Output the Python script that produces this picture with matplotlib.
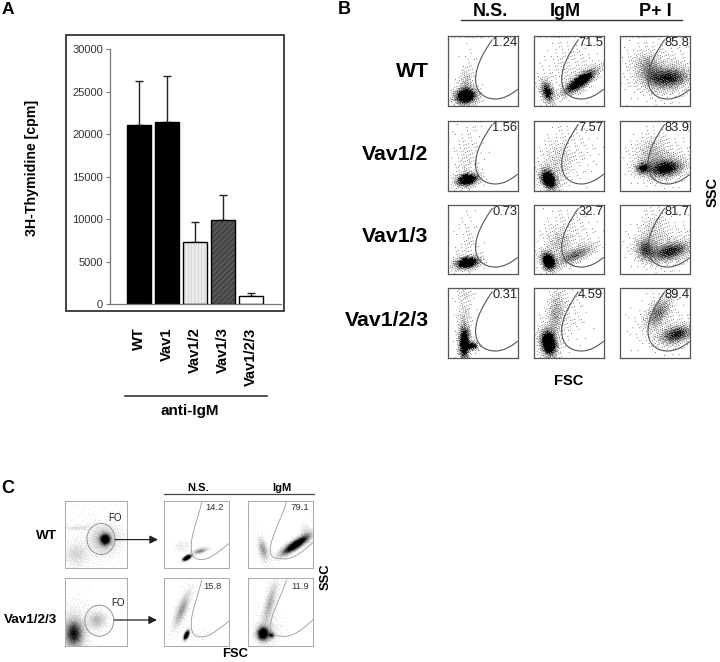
import numpy as np
import matplotlib
matplotlib.use('Agg')
import matplotlib.pyplot as plt
from matplotlib.patches import Ellipse, PathPatch, Rectangle
from matplotlib.path import Path

plt.rcParams['font.family'] = ['Liberation Sans', 'DejaVu Sans']
plt.rcParams['hatch.linewidth'] = 0.4

W, H = 720, 662

# panel A
genotypes = ['WT', 'Vav1', 'Vav1/2', 'Vav1/3', 'Vav1/2/3']
cpm_mean = [21100, 21500, 7300, 9900, 1000]
cpm_top = [26300, 26900, 9650, 12800, 1350]
bar_colors = ['black', 'black', '#ececec', '#555555', 'white']
bar_hatch = [None, None, '|||||', '//////', None]
hatch_colors = ['black', 'black', '#c4c4c4', '#222222', 'white']
y_ticks = [0, 5000, 10000, 15000, 20000, 25000, 30000]

# panel B: percent labels by row, then N.S. / IgM / P+ I
b_rows = ['WT', 'Vav1/2', 'Vav1/3', 'Vav1/2/3']
b_cols = ['N.S.', 'IgM', 'P+ I']
b_pct = [['1.24', '71.5', '85.8'],
         ['1.56', '7.57', '83.9'],
         ['0.73', '32.7', '81.7'],
         ['0.31', '4.59', '89.4']]

# dot clouds: x, y, sd along, sd across, angle, strength
b_clouds = [
    [[(25, 14, 8, 6, 10, 3.4), (26, 32, 5, 10, 0, .5), (28, 60, 6, 18, 0, .05)],
     [(19, 20, 4.5, 8.5, 15, 2.0), (66, 35, 14, 4.5, 35, 3.2), (50, 55, 20, 20, 0, .1)],
     [(71, 40, 15, 8, 5, 1.5), (43, 49, 9, 13, 30, .8), (55, 50, 24, 20, 0, .2)]],
    [[(27, 16, 8, 4.5, 10, 3.4), (27, 38, 8, 14, 0, .14), (28, 70, 10, 18, 0, .06)],
     [(21, 16, 5.5, 8, 30, 3.2), (32, 38, 11, 15, 0, .25), (50, 55, 20, 22, 0, .08)],
     [(66, 32, 13, 6.5, 10, 2.0), (33, 32, 6, 4.5, 10, 1.8), (47, 48, 12, 14, 0, .45), (60, 45, 25, 18, 0, .12)]],
    [[(27, 16, 9, 4.5, 10, 3.2), (28, 40, 8, 12, 0, .12), (26, 72, 6, 16, 0, .05)],
     [(21, 18, 5, 7, 25, 3.4), (59, 27, 15, 5, 25, 1.1), (36, 42, 10, 12, 0, .4), (50, 60, 20, 20, 0, .08)],
     [(72, 32, 15, 6.5, 15, 1.6), (36, 35, 7, 8, 20, 1.3), (48, 55, 10, 18, 0, .3), (65, 45, 25, 18, 0, .12)]],
    [[(23, 21, 4, 12, 0, 3.0), (35, 17, 4, 3, 0, 2.2), (23, 55, 5, 20, 0, .3), (24, 90, 8, 6, 0, .12)],
     [(21, 21, 6, 10, 10, 3.4), (31, 62, 6, 18, -5, .6), (46, 60, 14, 20, 0, .1)],
     [(81, 33, 13, 6.5, 15, 1.6), (55, 64, 6.5, 13, -35, 1.0), (60, 45, 22, 18, 0, .1)]],
]
# stray events piled against the top edge of the B plots
b_top_band = (30, 99, 22, 1, 0, .5)

# panel C clouds: left gate plot, N.S., IgM for WT and Vav1/2/3
c_rows = ['WT', 'Vav1/2/3']
c_cols = ['N.S.', 'IgM']
c_pct = [['14.2', '79.1'], ['15.8', '11.9']]
c_clouds = [
    [[(64, 42, 4.5, 4.5, 0, 3.5), (62, 42, 12, 11, 0, .7), (18, 20, 10, 9, 0, .4), (21, 59, 12, 2, 0, .3), (40, 40, 30, 30, 0, .03)],
     [(35, 15, 3.8, 1.7, 28, 6.0), (55, 25, 6, 2, 15, 1.3), (27, 32, 6, 4, 0, .2)],
     [(72, 34, 13, 3.5, 33, 4.0), (23, 27, 3.8, 9, 15, 1.0), (88, 50, 5, 7, 0, .4)]],
    [[(14, 18, 8, 11, 0, 2.2), (51, 38, 8, 7, 0, .7), (15, 25, 14, 20, 0, .25)],
     [(27, 53, 15, 4, 68, 1.0), (34, 16, 3.8, 1.7, 65, 6.0), (60, 15, 12, 5, 0, .06)],
     [(23, 18, 5, 5.5, 0, 4.0), (36, 16, 2.5, 2.5, 0, 2.2), (33, 62, 18, 4, 75, .8), (30, 25, 10, 12, 0, .25)]],
]

# gate outlines as bezier control points
gate_b = [(64, 95), (50, 75), (40, 56), (40, 38), (40, 20), (52, 10), (68, 10), (80, 10), (90, 16), (100, 24)]
gate_c = [(58, 98), (52, 72), (42, 52), (42, 32), (42, 16), (48, 13), (58, 13), (72, 13), (88, 28), (100, 37)]
gate_c_igm = [(59, 98), (50, 70), (34, 46), (34, 26), (34, 14), (46, 14), (56, 14), (72, 14), (88, 28), (100, 39)]


def px_axes(x0, y0, x1, y1, **kw):
    return fig.add_axes([x0 / W, 1 - y1 / H, (x1 - x0) / W, (y1 - y0) / H], **kw)


def draw_cloud(ax, blobs, gain, dots, spread=1.1):
    # density from the read clusters, then a fixed halftone screen to get a dotted look
    i, j = np.meshgrid(np.arange(dots), np.arange(dots))
    xx, yy = (i + .5) * 100 / dots, (j + .5) * 100 / dots
    z = np.zeros_like(xx)
    for cx, cy, sa, sb, ang, w in blobs:
        t = np.deg2rad(ang)
        u = (xx - cx) * np.cos(t) + (yy - cy) * np.sin(t)
        v = -(xx - cx) * np.sin(t) + (yy - cy) * np.cos(t)
        z += w * np.exp(-0.5 * ((u / (sa * spread)) ** 2 + (v / (sb * spread)) ** 2))
    screen = np.mod(52.9829189 * np.mod(0.06711056 * i + 0.00583715 * j, 1), 1)
    ink = gain * z > screen
    ax.imshow(ink.astype(float), extent=(0, 100, 0, 100), origin='lower', cmap='Greys', vmin=0, vmax=1,
              aspect='auto', interpolation='antialiased')


def draw_gate(ax, pts, color, lw):
    codes = [Path.MOVETO] + [Path.CURVE4] * 9
    ax.add_patch(PathPatch(Path(pts, codes), fill=False, ec=color, lw=lw))


def flow_panel(box, blobs, edge='#555555', edge_w=0.9, gain=0.55, dots=100):
    ax = px_axes(*box)
    draw_cloud(ax, blobs, gain, dots)
    ax.set_xlim(0, 100)
    ax.set_ylim(0, 100)
    ax.set_xticks([])
    ax.set_yticks([])
    for s in ax.spines.values():
        s.set_color(edge)
        s.set_linewidth(edge_w)
    return ax


fig = plt.figure(figsize=(W / 100, H / 100), dpi=100)

# overlay in picture pixels for labels and rules
ov = fig.add_axes([0, 0, 1, 1], zorder=5)
ov.set_xlim(0, W)
ov.set_ylim(H, 0)
ov.axis('off')
ov.patch.set_alpha(0)

# ---- A
ov.add_patch(Rectangle((66, 35), 218, 276, fill=False, ec='#333333', lw=1.3))
ax = px_axes(110, 49.5, 280.7, 304)
ax.patch.set_alpha(0)
x = np.arange(len(genotypes))
for i in x:
    ax.bar(i, cpm_mean[i], width=0.86, color=bar_colors[i], hatch=bar_hatch[i], ec=hatch_colors[i], lw=0, zorder=2)
    ax.bar(i, cpm_mean[i], width=0.86, fill=False, ec='black', lw=1.0, zorder=3)
    ax.errorbar(i, cpm_mean[i], yerr=[[0], [cpm_top[i] - cpm_mean[i]]], color='#222222', lw=1.0,
                capsize=2.6, capthick=1.0, zorder=1)
ax.set_xlim(-1.036, 5.06)
ax.set_ylim(0, 30000)
ax.set_yticks(y_ticks)
ax.tick_params(axis='y', labelsize=8, length=3, width=0.8, color='#777777', labelcolor='#333333', pad=2)
ax.set_xticks(x, genotypes, rotation=90, fontweight='bold', fontsize=10.6)
ax.tick_params(axis='x', length=0, pad=17)
for s in ['top', 'right']:
    ax.spines[s].set_visible(False)
for s in ['left', 'bottom']:
    ax.spines[s].set_color('#777777')
    ax.spines[s].set_linewidth(0.9)
ov.text(32, 168, '3H-Thymidine [cpm]', rotation=90, ha='center', va='center', fontweight='bold', fontsize=10.2)
ov.plot([125, 267], [395.7, 395.7], color='#222222', lw=1.1)
ov.text(190, 410.7, 'anti-IgM', ha='center', va='center', fontweight='bold', fontsize=11)
ov.text(2, 9.5, 'A', ha='left', va='center', fontweight='bold', fontsize=12.5)

# ---- B
b_x = [(447.5, 517.7), (533.7, 603.7), (620, 690)]
b_y = [(36, 106), (120.7, 191), (204.7, 274), (288, 358)]
b_head_x = [490, 565, 655]
b_label_y = [71.6, 154, 236.7, 320]
for r, (y0, y1) in enumerate(b_y):
    ov.text(428.7, b_label_y[r], b_rows[r], ha='right', va='center', fontweight='bold', fontsize=15.3)
    for c, (x0, x1) in enumerate(b_x):
        a = flow_panel((x0, y0, x1, y1), b_clouds[r][c] + [b_top_band])
        draw_gate(a, gate_b, '#555555', 0.8)
        ov.text(x1 - 0.5, y0 + 7.3, b_pct[r][c], ha='right', va='center', fontsize=9.3, color='#222222')
for c, name in enumerate(b_cols):
    ov.text(b_head_x[c], 11, name, ha='center', va='center', fontweight='bold', fontsize=13)
ov.plot([461, 681.7], [19.7, 19.7], color='#333333', lw=1.0)
ov.text(338, 9, 'B', ha='left', va='center', fontweight='bold', fontsize=13)
ov.text(713, 191.6, 'SSC', rotation=90, ha='center', va='center', fontweight='bold', fontsize=10.5)
ov.text(569, 380.7, 'FSC', ha='center', va='center', fontweight='bold', fontsize=10.5)

# ---- C
c_left = (65, 127.5)
c_x = [(163.7, 229.3), (248, 313.3)]
c_y = [(500.7, 568.3), (578.3, 645.7)]
c_pct_x = [[215, 300], [212.7, 300]]
c_pct_y = [507.7, 586.7]
c_label_y = [536, 619.7]
fo_xy = [(115, 517.7), (118, 603)]
circle_xy = [(101, 539, 28, 31), (99.3, 620.7, 29, 31)]
arrow_x = [(115, 158), (114, 157)]
arrow_y = [539.6, 620]
for r, (y0, y1) in enumerate(c_y):
    ov.text(57.3, c_label_y[r], c_rows[r], ha='right', va='center', fontweight='bold', fontsize=9.7)
    flow_panel((c_left[0], y0, c_left[1], y1), c_clouds[r][0], edge='#aaaaaa', edge_w=0.7, gain=0.4, dots=200)
    for c, (x0, x1) in enumerate(c_x):
        a = flow_panel((x0, y0, x1, y1), c_clouds[r][c + 1], edge='#aaaaaa', edge_w=0.7, gain=0.4, dots=200)
        draw_gate(a, gate_c_igm if c else gate_c, '#999999', 0.6)
        ov.text(c_pct_x[r][c], c_pct_y[r], c_pct[r][c], ha='center', va='center', fontsize=6.8, color='#333333')
    ov.text(*fo_xy[r], 'FO', ha='center', va='center', fontsize=7, color='#222222')
    cx, cy, cw, ch = circle_xy[r]
    ov.add_patch(Ellipse((cx, cy), cw, ch, fill=False, ec='#888888', lw=0.6))
    ov.annotate('', xy=(arrow_x[r][1], arrow_y[r]), xytext=(arrow_x[r][0], arrow_y[r]),
                arrowprops=dict(arrowstyle='-|>', color='#222222', lw=0.9, mutation_scale=12, shrinkA=0, shrinkB=0))
ov.text(198, 488, 'N.S.', ha='center', va='center', fontweight='bold', fontsize=8)
ov.text(282, 488, 'IgM', ha='center', va='center', fontweight='bold', fontsize=8)
ov.plot([163.7, 314], [494.3, 494.3], color='#444444', lw=0.9)
ov.text(1, 488.5, 'C', ha='left', va='center', fontweight='bold', fontsize=13)
ov.text(326, 577, 'SSC', rotation=90, ha='center', va='center', fontweight='bold', fontsize=9.4)
ov.text(235, 654, 'FSC', ha='center', va='center', fontweight='bold', fontsize=9.4)

fig.savefig('out.png', dpi=100)
